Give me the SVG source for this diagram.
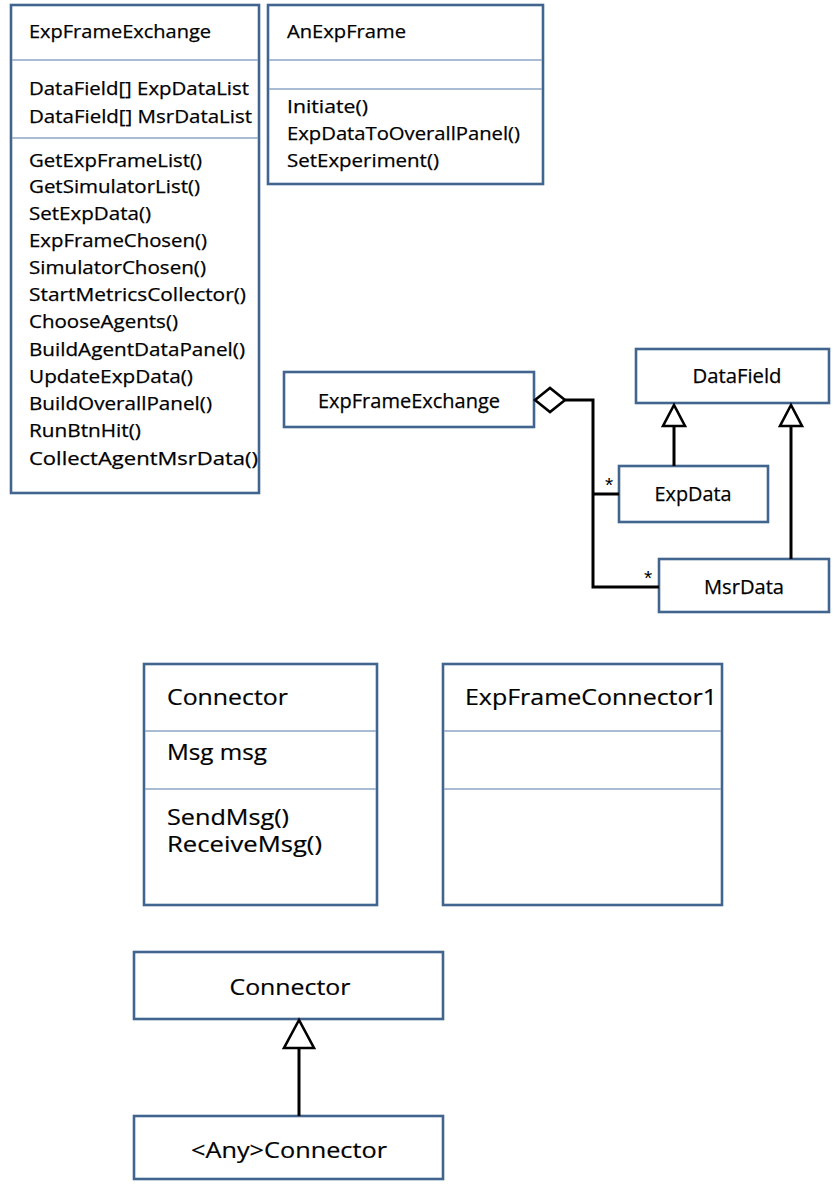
<svg xmlns="http://www.w3.org/2000/svg" width="833" height="1184" viewBox="0 0 833 1184">
<style>
.box{fill:#fff;stroke:#41658f;stroke-width:2.6}
.div{stroke:#8ea6c4;stroke-width:1.6}
.t{font-family:"Open Sans","Liberation Sans",sans-serif;font-size:18.5px;fill:#000;stroke:#000;stroke-width:0.25}
.tm{font-family:"Open Sans","Liberation Sans",sans-serif;font-size:20.5px;fill:#000;stroke:#000;stroke-width:0.25;text-anchor:middle}
.tl{font-family:"Open Sans","Liberation Sans",sans-serif;font-size:22px;fill:#000;stroke:#000;stroke-width:0.2}
.c{text-anchor:middle}
.ln{fill:none;stroke:#000;stroke-width:3}
.hd{fill:#fff;stroke:#000;stroke-width:2.6;stroke-linejoin:miter}
.st{font-family:"Liberation Sans",sans-serif;font-size:21px;fill:#000}
</style>
<rect width="833" height="1184" fill="#fff"/>

<g id="expframeexchange-class">
<rect class="box" x="11" y="5" width="248" height="488"/>
<line class="div" x1="12" y1="60" x2="258" y2="60"/>
<line class="div" x1="12" y1="138" x2="258" y2="138"/>
<text class="t" x="29" y="38" textLength="182" lengthAdjust="spacingAndGlyphs">ExpFrameExchange</text>
<text class="t" x="29" y="95" textLength="220" lengthAdjust="spacingAndGlyphs">DataField[] ExpDataList</text>
<text class="t" x="29" y="123" textLength="223" lengthAdjust="spacingAndGlyphs">DataField[] MsrDataList</text>
<text class="t" x="29" y="167" textLength="173" lengthAdjust="spacingAndGlyphs">GetExpFrameList()</text>
<text class="t" x="29" y="193" textLength="171" lengthAdjust="spacingAndGlyphs">GetSimulatorList()</text>
<text class="t" x="29" y="220" textLength="122" lengthAdjust="spacingAndGlyphs">SetExpData()</text>
<text class="t" x="29" y="247" textLength="178" lengthAdjust="spacingAndGlyphs">ExpFrameChosen()</text>
<text class="t" x="29" y="274" textLength="177" lengthAdjust="spacingAndGlyphs">SimulatorChosen()</text>
<text class="t" x="29" y="301" textLength="217" lengthAdjust="spacingAndGlyphs">StartMetricsCollector()</text>
<text class="t" x="29" y="328" textLength="149" lengthAdjust="spacingAndGlyphs">ChooseAgents()</text>
<text class="t" x="29" y="356" textLength="216" lengthAdjust="spacingAndGlyphs">BuildAgentDataPanel()</text>
<text class="t" x="29" y="383" textLength="164" lengthAdjust="spacingAndGlyphs">UpdateExpData()</text>
<text class="t" x="29" y="410" textLength="183" lengthAdjust="spacingAndGlyphs">BuildOverallPanel()</text>
<text class="t" x="29" y="437" textLength="112" lengthAdjust="spacingAndGlyphs">RunBtnHit()</text>
<text class="t" x="29" y="465" textLength="229" lengthAdjust="spacingAndGlyphs">CollectAgentMsrData()</text>
</g>

<g id="anexpframe-class">
<rect class="box" x="268" y="5" width="275" height="179"/>
<line class="div" x1="269" y1="60" x2="542" y2="60"/>
<line class="div" x1="269" y1="89" x2="542" y2="89"/>
<text class="t" x="287" y="38" textLength="119" lengthAdjust="spacingAndGlyphs">AnExpFrame</text>
<text class="t" x="287" y="113" textLength="81" lengthAdjust="spacingAndGlyphs">Initiate()</text>
<text class="t" x="287" y="140" textLength="233" lengthAdjust="spacingAndGlyphs">ExpDataToOverallPanel()</text>
<text class="t" x="287" y="167" textLength="152" lengthAdjust="spacingAndGlyphs">SetExperiment()</text>
</g>

<g id="expframeexchange">
<rect class="box" x="284" y="372" width="250" height="55"/>
<text class="tm" x="409" y="408" textLength="182" lengthAdjust="spacingAndGlyphs">ExpFrameExchange</text>
</g>

<g id="datafield">
<rect class="box" x="636" y="349" width="193" height="54"/>
<text class="tm" x="737" y="383" textLength="89" lengthAdjust="spacingAndGlyphs">DataField</text>
</g>

<g id="expdata">
<rect class="box" x="619" y="466" width="149" height="56"/>
<text class="tm" x="693" y="501" textLength="77" lengthAdjust="spacingAndGlyphs">ExpData</text>
</g>

<g id="msrdata">
<rect class="box" x="659" y="559" width="170" height="53"/>
<text class="tm" x="744" y="594" textLength="80" lengthAdjust="spacingAndGlyphs">MsrData</text>
</g>

<g id="connector-class">
<rect class="box" x="144" y="664" width="233" height="241"/>
<line class="div" x1="145" y1="731" x2="376" y2="731"/>
<line class="div" x1="145" y1="789" x2="376" y2="789"/>
<text class="tl" x="167" y="705" textLength="121" lengthAdjust="spacingAndGlyphs">Connector</text>
<text class="tl" x="167" y="760" textLength="100" lengthAdjust="spacingAndGlyphs">Msg msg</text>
<text class="tl" x="167" y="825" textLength="122" lengthAdjust="spacingAndGlyphs">SendMsg()</text>
<text class="tl" x="167" y="852" textLength="155" lengthAdjust="spacingAndGlyphs">ReceiveMsg()</text>
</g>

<g id="expframeconnector1-class">
<rect class="box" x="443" y="664" width="279" height="241"/>
<line class="div" x1="444" y1="731" x2="721" y2="731"/>
<line class="div" x1="444" y1="789" x2="721" y2="789"/>
<text class="tl" x="465" y="705" textLength="252" lengthAdjust="spacingAndGlyphs">ExpFrameConnector1</text>
</g>

<g id="connector">
<rect class="box" x="134" y="952" width="309" height="67"/>
<text class="tl c" x="290" y="995" textLength="121" lengthAdjust="spacingAndGlyphs">Connector</text>
</g>

<g id="any-connector">
<rect class="box" x="134" y="1116" width="309" height="63"/>
<text class="tl c" x="289" y="1158" textLength="196" lengthAdjust="spacingAndGlyphs">&lt;Any&gt;Connector</text>
</g>

<g id="connectors">
<path class="ln" d="M565,400 H593 V587 H659"/>
<path class="ln" d="M593,494 H619"/>
<polygon class="hd" points="535,400 550,388 565,400 550,412"/>
<text class="st" x="605" y="492">*</text>
<text class="st" x="644" y="585">*</text>
<line class="ln" x1="674" y1="466" x2="674" y2="426"/>
<polygon class="hd" points="674,405 663,426 685,426"/>
<line class="ln" x1="791" y1="559" x2="791" y2="426"/>
<polygon class="hd" points="791,405 780,426 802,426"/>
<line class="ln" x1="299" y1="1116" x2="299" y2="1048"/>
<polygon class="hd" points="299,1020 284,1048 314,1048"/>
</g>
</svg>
